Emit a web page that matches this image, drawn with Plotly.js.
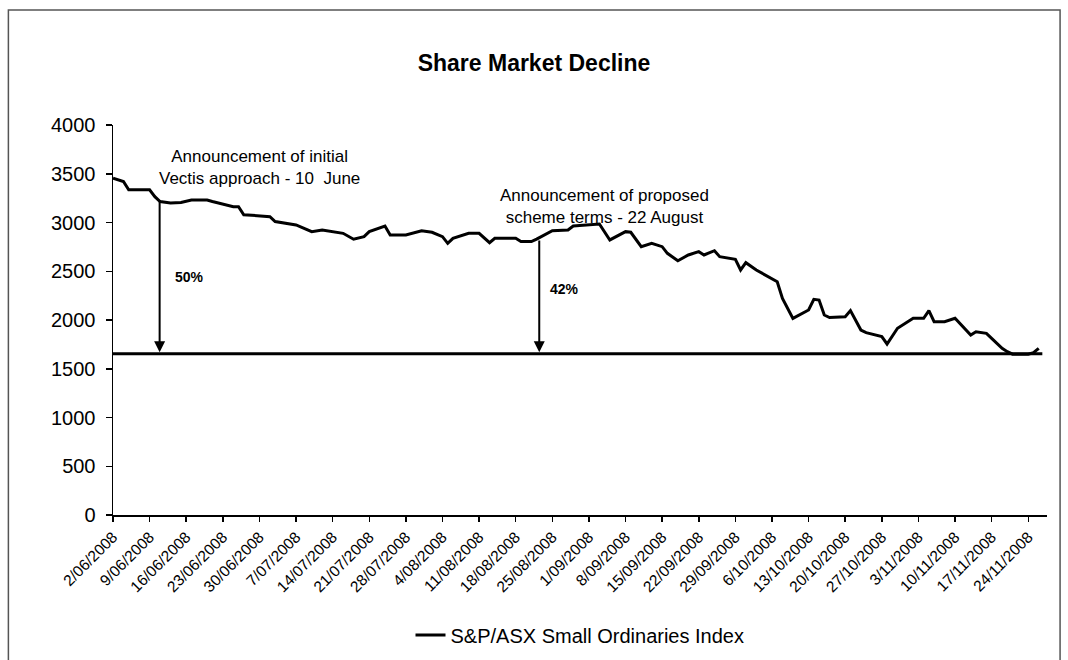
<!DOCTYPE html>
<html>
<head>
<meta charset="utf-8">
<script src="https://cdn.plot.ly/plotly-3.0.1.min.js"></script>
<style>
  html, body { margin: 0; padding: 0; background: #ffffff; }
  #chart { width: 1068px; height: 660px; }
</style>
</head>
<body>
<div id="chart"></div>
<script>
// ---- Data ----
const seriesName = "S&P/ASX Small Ordinaries Index";
const dates = [
  "2008-06-02","2008-06-04","2008-06-05","2008-06-09","2008-06-10","2008-06-11","2008-06-13","2008-06-15",
  "2008-06-17","2008-06-20","2008-06-21","2008-06-25","2008-06-26","2008-06-27","2008-07-02","2008-07-03",
  "2008-07-07","2008-07-10","2008-07-12","2008-07-16","2008-07-18","2008-07-20","2008-07-21","2008-07-24",
  "2008-07-25","2008-07-28","2008-07-31","2008-08-02","2008-08-04","2008-08-05","2008-08-06","2008-08-09",
  "2008-08-11","2008-08-13","2008-08-14","2008-08-18","2008-08-19","2008-08-21","2008-08-22","2008-08-24",
  "2008-08-25","2008-08-28","2008-08-29","2008-09-03","2008-09-05","2008-09-08","2008-09-09","2008-09-11",
  "2008-09-13","2008-09-15","2008-09-16","2008-09-18","2008-09-20","2008-09-22","2008-09-23","2008-09-25",
  "2008-09-26","2008-09-29","2008-09-30","2008-10-01","2008-10-03","2008-10-07","2008-10-08","2008-10-10",
  "2008-10-13","2008-10-14","2008-10-15","2008-10-16","2008-10-17","2008-10-20","2008-10-21","2008-10-23",
  "2008-10-24","2008-10-27","2008-10-28","2008-10-30","2008-11-02","2008-11-04","2008-11-05","2008-11-06",
  "2008-11-08","2008-11-10","2008-11-12","2008-11-13","2008-11-14","2008-11-16","2008-11-17","2008-11-19",
  "2008-11-20","2008-11-21","2008-11-24","2008-11-25","2008-11-26"
];
const values = [
  3455, 3420, 3335, 3335, 3265, 3215, 3200, 3205,
  3230, 3230, 3215, 3162, 3162, 3080, 3060, 3010,
  2975, 2906, 2923, 2889, 2828, 2855, 2906, 2964,
  2872, 2872, 2916, 2900, 2855, 2786, 2838, 2889,
  2889, 2793, 2838, 2838, 2804, 2804, 2830, 2889,
  2916, 2923, 2964, 2985, 2821, 2906, 2900, 2752,
  2786, 2752, 2684, 2608, 2667, 2701, 2667, 2711,
  2650, 2623, 2513, 2588, 2513, 2393, 2222, 2017,
  2103, 2212, 2205, 2051, 2025, 2034, 2096, 1897,
  1870, 1829, 1754, 1915, 2017, 2017, 2096, 1983,
  1983, 2017, 1897, 1846, 1880, 1863, 1812, 1709,
  1675, 1650, 1650, 1665, 1710
];
const tickDates = [
  "2008-06-02","2008-06-09","2008-06-16","2008-06-23","2008-06-30","2008-07-07","2008-07-14",
  "2008-07-21","2008-07-28","2008-08-04","2008-08-11","2008-08-18","2008-08-25","2008-09-01",
  "2008-09-08","2008-09-15","2008-09-22","2008-09-29","2008-10-06","2008-10-13","2008-10-20",
  "2008-10-27","2008-11-03","2008-11-10","2008-11-17","2008-11-24"
];
const tickLabels = [
  "2/06/2008","9/06/2008","16/06/2008","23/06/2008","30/06/2008","7/07/2008","14/07/2008",
  "21/07/2008","28/07/2008","4/08/2008","11/08/2008","18/08/2008","25/08/2008","1/09/2008",
  "8/09/2008","15/09/2008","22/09/2008","29/09/2008","6/10/2008","13/10/2008","20/10/2008",
  "27/10/2008","3/11/2008","10/11/2008","17/11/2008","24/11/2008"
];
const yTicks = [0, 500, 1000, 1500, 2000, 2500, 3000, 3500, 4000];
const baseLevel = 1655;
const arrowDates = ["2008-06-10 22:00", "2008-08-22 12:00"];
const arrowTops = [3245, 2830];
const arrowLabels = ["50%", "42%"];
const arrowLabelPos = [["2008-06-16 16:00", 2441], ["2008-08-27 06:00", 2318]];
const noteTexts = ["Announcement of initial<br>Vectis approach - 10  June",
                   "Announcement of proposed<br>scheme terms - 22 August"];
const notePos = [["2008-06-30", 3560], ["2008-09-04", 3160]];

const FONT = "Liberation Sans, Arial, sans-serif";

const trace = {
  x: dates, y: values, type: "scatter", mode: "lines", name: seriesName,
  line: { color: "#000000", width: 3 }
};

const annotations = [];
for (let i = 0; i < arrowDates.length; i++) {
  annotations.push({
    x: arrowDates[i], y: baseLevel + 15, xref: "x", yref: "y",
    ax: arrowDates[i], ay: arrowTops[i], axref: "x", ayref: "y",
    text: "", showarrow: true, arrowhead: 2, arrowsize: 1.1, arrowwidth: 2,
    arrowcolor: "#000000", standoff: 0, startstandoff: 0
  });
  annotations.push({
    x: arrowLabelPos[i][0], y: arrowLabelPos[i][1], xref: "x", yref: "y",
    text: "<b>" + arrowLabels[i] + "</b>", showarrow: false,
    font: { family: FONT, size: 14, color: "#000000" }
  });
  annotations.push({
    x: notePos[i][0], y: notePos[i][1], xref: "x", yref: "y",
    text: noteTexts[i], showarrow: false, align: "center",
    font: { family: FONT, size: 17, color: "#000000" }
  });
}

const layout = {
  width: 1068, height: 660,
  margin: { l: 113, r: 21, t: 125, b: 145 },
  paper_bgcolor: "#ffffff", plot_bgcolor: "#ffffff",
  font: { family: FONT, color: "#000000" },
  title: { text: "<b>Share Market Decline</b>", x: 0.5, xanchor: "center", y: 0.905, yanchor: "middle",
           font: { family: FONT, size: 23, color: "#000000" } },
  xaxis: {
    type: "date", range: ["2008-06-02", "2008-11-27 14:00"], automargin: false,
    tickmode: "array", tickvals: tickDates, ticktext: tickLabels, tickangle: -45,
    tickfont: { family: FONT, size: 15.5, color: "#000000" },
    showgrid: false, zeroline: false, showline: true, linecolor: "#000000", linewidth: 2,
    ticks: "outside", ticklen: 5, tickcolor: "#000000", tickwidth: 1.5
  },
  yaxis: {
    range: [0, 4000], tickmode: "array", tickvals: yTicks, automargin: false,
    tickfont: { family: FONT, size: 20, color: "#000000" }, ticklabelstandoff: 6,
    showgrid: false, zeroline: false, showline: true, linecolor: "#000000", linewidth: 1.5,
    ticks: "outside", ticklen: 6, tickcolor: "#000000", tickwidth: 1.5
  },
  showlegend: true,
  legend: { orientation: "h", x: 0.5, xanchor: "center", yref: "container", y: 0.038, yanchor: "middle",
            font: { family: FONT, size: 20, color: "#000000" }, bgcolor: "rgba(0,0,0,0)" },
  shapes: [
    { type: "line", xref: "paper", yref: "y", x0: 0, x1: 0.995, y0: baseLevel, y1: baseLevel,
      line: { color: "#000000", width: 3 } },
    { type: "rect", xref: "paper", yref: "paper", x0: -0.112, x1: 1.014, y0: -0.45, y1: 1.295,
      line: { color: "#555555", width: 1.5 }, layer: "below" }
  ],
  annotations: annotations
};

Plotly.newPlot("chart", [trace], layout, { displayModeBar: false, staticPlot: true });
</script>
</body>
</html>
